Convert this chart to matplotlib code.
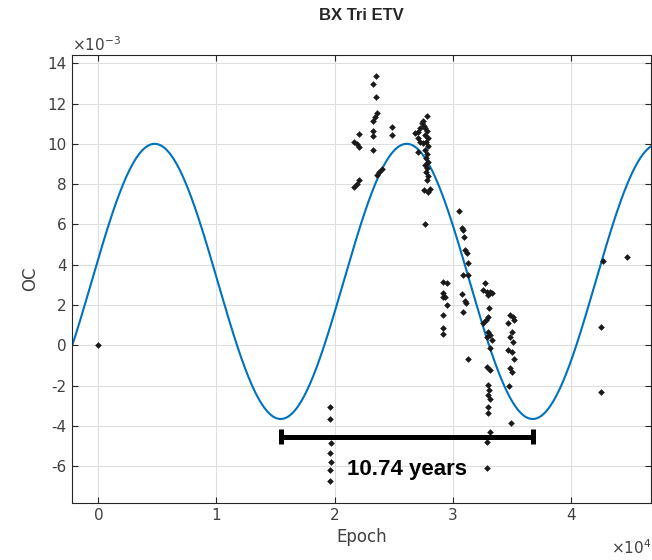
import numpy as np
import matplotlib.pyplot as plt
from matplotlib.ticker import FuncFormatter, MultipleLocator

# measured times: epoch (cycles) and O-C (in units of 1e-3 d)
epoch = [0,
         19660, 19620, 19680, 19640, 19700, 19660, 19620,
         23490, 23230, 23490, 23570, 23430, 23230, 22100, 23230, 23230, 24870, 24870,
         21680, 21880, 22100, 23230, 23990, 23790, 23570, 22100, 21880, 21680,
         27810, 27520, 27380, 27600, 27240, 27040, 26820, 27100, 27240, 27520, 27100,
         27700, 27870, 27660, 27920, 27750, 27920, 27700, 27870, 27750, 27920,
         27660, 27870, 27750, 27920, 27830, 27580, 27920, 28090, 27660,
         30540, 30770, 30880, 30960, 31050, 31190, 31280, 30850, 31300,
         29210, 29500, 29160, 29160, 29350, 29500, 29160, 29160, 29160,
         30820, 31050, 31130, 30850, 31330,
         32740, 32600, 32890, 33160, 33020, 33310, 33080, 33020, 32830, 32600,
         33020, 33160, 32890, 33310, 33160, 32890, 33160, 33020, 33110, 33020,
         33160, 33020, 33020, 33160, 32890, 32890,
         34860, 35090, 35200, 34710, 35000, 34860, 35090, 34710, 35000, 35200,
         34860, 35000, 34800, 34920,
         42710, 44740, 42540, 42540]
oc_e3 = [0.0,
         -3.06, -3.66, -4.85, -5.35, -5.79, -6.19, -6.74,
         13.38, 12.97, 12.34, 11.53, 11.35, 11.15, 10.49, 10.65, 10.39, 10.85, 10.45,
         10.10, 9.99, 9.86, 9.69, 8.73, 8.62, 8.45, 8.20, 8.01, 7.87,
         11.40, 11.15, 11.02, 10.88, 10.77, 10.60, 10.52, 10.27, 10.10, 10.03, 9.61,
         10.78, 10.64, 10.44, 10.29, 10.09, 9.89, 9.69, 9.49, 9.30, 9.10,
         8.95, 8.80, 8.60, 8.40, 8.20, 7.71, 7.61, 7.76, 6.02,
         6.67, 5.84, 5.72, 5.37, 4.73, 4.58, 4.08, 3.50, 3.50,
         3.16, 3.11, 2.61, 2.40, 2.38, 2.00, 1.50, 0.84, 0.56,
         2.55, 2.21, 2.08, 1.67, -0.69,
         3.11, 2.74, 2.66, 2.66, 2.50, 2.58, 1.84, 1.42, 1.26, 1.09,
         0.67, 0.50, 0.43, 0.26, -0.15, -1.06, -1.23, -1.97, -2.22, -2.47,
         -2.68, -3.05, -3.37, -4.29, -4.78, -6.10,
         1.50, 1.42, 1.26, 1.09, 0.67, 0.43, 0.18, -0.23, -0.32, -0.69,
         -1.14, -1.31, -2.02, -3.87,
         4.20, 4.40, 0.89, -2.30]

# sinusoidal fit (LTTE-like)
fit_offset = 3.17e-3
fit_amp = 6.83e-3
fit_period = 21340      # epochs, = 10.74 years
fit_peak = 4770         # epoch of first maximum

# period marker between two minima
bar_start = 15440
bar_end = 36780
bar_y = -4.54e-3
bar_text = "10.74 years"

xmin, xmax = -2252, 46800
ymin, ymax = -7.83e-3, 14.41e-3

oc = np.array(oc_e3) * 1e-3
xs = np.linspace(xmin, xmax, 2000)
fit = fit_offset + fit_amp * np.cos(2 * np.pi * (xs - fit_peak) / fit_period)

txt = '#262626'
plt.rcParams['font.family'] = 'DejaVu Sans'
plt.rcParams['mathtext.fontset'] = 'dejavusans'

fig = plt.figure(figsize=(6.52, 5.6), dpi=100)
ax = fig.add_axes([0.110, 0.1018, 0.8885, 0.80])

ax.plot(xs, fit, color='#0072BD', lw=1.5, zorder=2)
ax.plot(epoch, oc, linestyle='none', marker='D', ms=3.4, color='#1a1a1a',
        markeredgewidth=0, zorder=3)

# bar with end caps
ax.plot([bar_start, bar_end], [bar_y, bar_y], color='black', lw=3.6, zorder=4,
        solid_capstyle='butt')
for xb in (bar_start, bar_end):
    ax.plot([xb, xb], [bar_y - 0.37e-3, bar_y + 0.37e-3], color='black', lw=3.6,
            zorder=4, solid_capstyle='butt')
ax.text((bar_start + bar_end) / 2, -6.19e-3, bar_text, ha='center', va='center',
        fontsize=16, fontweight='bold', family='Liberation Sans', color='black')

ax.set_xlim(xmin, xmax)
ax.set_ylim(ymin, ymax)
ax.xaxis.set_major_locator(MultipleLocator(10000))
ax.yaxis.set_major_locator(MultipleLocator(2e-3))
ax.xaxis.set_major_formatter(FuncFormatter(lambda v, p: f"{v / 1e4:g}"))
ax.yaxis.set_major_formatter(FuncFormatter(lambda v, p: f"{round(v * 1e3):d}"))
ax.grid(True, color='#dedede', lw=0.8)
ax.set_axisbelow(True)
ax.tick_params(direction='in', length=4, width=0.8, top=True, right=True,
               labelsize=11, colors=txt, labelcolor='#404040')
for s in ax.spines.values():
    s.set_color(txt)
    s.set_linewidth(0.8)

ax.set_xlabel("Epoch", fontsize=12, color='#404040', labelpad=4)
ax.set_ylabel("OC", fontsize=12, color='#404040', labelpad=6)
fig.text(0.555, 0.972, "BX Tri ETV", ha='center', va='center', fontsize=12,
         fontweight='bold', family='Liberation Sans', color='#262626')
fig.text(72 / 652, 1 - 45 / 560, r"$\times10^{-3}$", ha='left', va='center',
         fontsize=11, color='#404040')
fig.text(651 / 652, 1 - 548 / 560, r"$\times10^{4}$", ha='right', va='center',
         fontsize=11, color='#404040')

fig.savefig("out.png", dpi=100)
